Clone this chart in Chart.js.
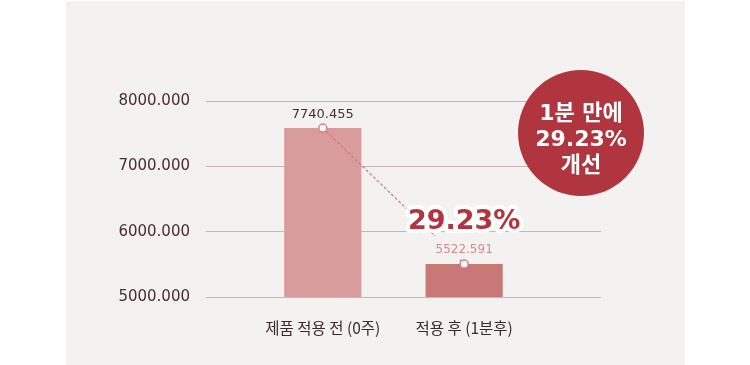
<!DOCTYPE html>
<html>
<head>
<meta charset="utf-8">
<script src="https://cdn.jsdelivr.net/npm/chart.js@4.4.1/dist/chart.umd.min.js"></script>
<style>
body{margin:0;background:#fff;}
#panel{position:absolute;left:66px;top:1px;width:619px;height:364px;background:#f4f2f1;}
#wrap{position:absolute;left:0;top:0;width:750px;height:365px;}
</style>
</head>
<body>
<div id="panel"></div>
<div id="wrap"><canvas id="myChart" width="750" height="365"></canvas></div>
<script>
// data
var categories = ['제품 적용 전 (0주)', '적용 후 (1분후)'];
var barValues = [7585, 5505];
var valueLabels = ['7740.455', '5522.591'];
var yTicks = [5000, 6000, 7000, 8000];
var changeText = '29.23%';
var badgeLines = ['1분 만에', '29.23%', '개선'];

var panelColor = '#f4f2f1';
var darkText = '#4a2c2e';
var red = '#b0353f';
var numFont = '"DejaVu Sans", "Noto Sans CJK KR", sans-serif';

var overlay = {
    id: 'overlay',
    afterDatasetsDraw: function(chart){
        var ctx = chart.ctx;
        var bars = chart.getDatasetMeta(0).data;
        var pts = chart.getDatasetMeta(1).data;
        var area = chart.chartArea;
        ctx.save();
        ctx.textAlign = 'center';
        ctx.textBaseline = 'middle';

        // hide the dashes behind the second label
        ctx.fillStyle = panelColor;
        ctx.fillRect(pts[1].x - 34, pts[1].y - 28, 70, 23);

        ctx.font = '13px ' + numFont;
        ctx.fillStyle = darkText;
        ctx.fillText(valueLabels[0], bars[0].x, bars[0].y - 13);

        ctx.font = '12px ' + numFont;
        ctx.fillStyle = '#d98a8e';
        ctx.fillText(valueLabels[1], bars[1].x, bars[1].y - 14);

        // big percentage with white halo
        ctx.font = 'bold 27px ' + numFont;
        ctx.lineJoin = 'round';
        ctx.lineWidth = 8;
        ctx.strokeStyle = '#fff';
        ctx.strokeText(changeText, pts[1].x, pts[1].y - 42);
        ctx.fillStyle = red;
        ctx.fillText(changeText, pts[1].x, pts[1].y - 42);

        // badge
        var cx = area.right - 20, cy = area.top + 32;
        ctx.beginPath();
        ctx.arc(cx, cy, 63, 0, Math.PI * 2);
        ctx.fillStyle = red;
        ctx.fill();
        ctx.fillStyle = '#fff';
        ctx.font = 'bold 22px ' + numFont;
        badgeLines.forEach(function(t, i){
            ctx.fillText(t, cx, cy - 19 + i * 26);
        });
        ctx.restore();
    }
};

function main(){
    var points = barValues.map(function(v, i){ return {x: i, y: v}; });
    new Chart('myChart', {
        type: 'bar',
        data: {
            datasets: [
                {
                    type: 'bar',
                    data: points,
                    backgroundColor: ['#d89c9c', '#c97878'],
                    barPercentage: 0.546,
                    categoryPercentage: 1,
                    order: 1
                },
                {
                    type: 'line',
                    data: points,
                    borderColor: '#cf7880',
                    borderWidth: 1.2,
                    borderDash: [3, 2],
                    pointRadius: 4,
                    pointBackgroundColor: '#fff',
                    pointBorderColor: '#d77f86',
                    pointBorderWidth: 1.5,
                    order: 0
                }
            ]
        },
        options: {
            responsive: false,
            animation: false,
            layout: {
                padding: {top: 101, right: 149, left: 0, bottom: 0}
            },
            plugins: {
                legend: {display: false},
                tooltip: {enabled: false}
            },
            scales: {
                x: {
                    type: 'linear',
                    offset: false,
                    min: -0.826,
                    max: 1.968,
                    grid: {display: false},
                    border: {display: false},
                    afterBuildTicks: function(axis){
                        axis.ticks = categories.map(function(c, i){ return {value: i}; });
                    },
                    afterFit: function(axis){ axis.height = 68; },
                    ticks: {
                        autoSkip: false,
                        maxRotation: 0,
                        padding: 14,
                        color: '#3a2a2a',
                        font: {family: '"Noto Sans CJK KR", sans-serif', size: 15.5},
                        callback: function(v){ return categories[v]; }
                    }
                },
                y: {
                    min: 5000,
                    max: 8000,
                    afterBuildTicks: function(axis){
                        axis.ticks = yTicks.map(function(v){ return {value: v}; });
                    },
                    afterFit: function(axis){ axis.width = 206; },
                    grid: {color: '#c9b4b6', drawTicks: false, lineWidth: 1},
                    border: {display: false},
                    ticks: {
                        padding: 16,
                        color: darkText,
                        font: {family: numFont, size: 15},
                        callback: function(v){ return v.toFixed(3); }
                    }
                }
            }
        },
        plugins: [overlay]
    });
}
main();
</script>
</body>
</html>
